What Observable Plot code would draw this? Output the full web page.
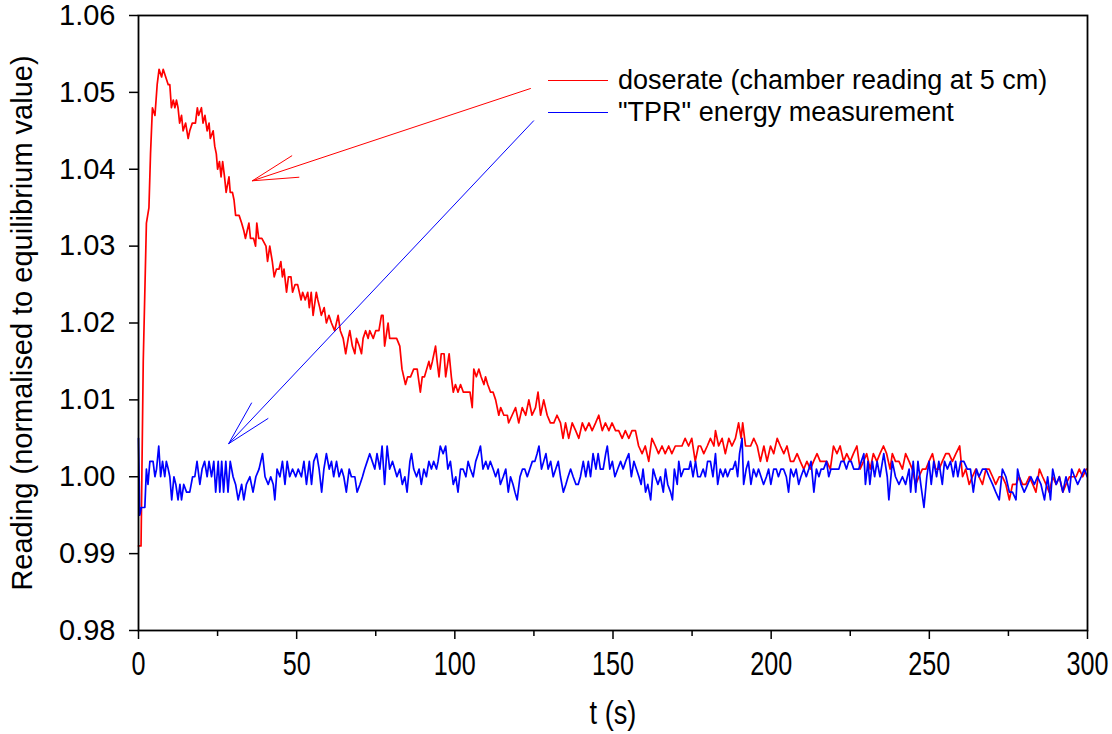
<!DOCTYPE html>
<html>
<head>
<meta charset="utf-8">
<script src="https://cdn.jsdelivr.net/npm/d3@7"></script>
<script src="https://cdn.jsdelivr.net/npm/@observablehq/plot@0.6"></script>
<style>
  html, body { margin: 0; padding: 0; background: #fff; }
  #wrap { position: relative; width: 1112px; height: 734px; }
  #legend { position: absolute; left: 548px; top: 64px; font-family: "Liberation Sans", Arial, sans-serif; font-size: 27px; color: #000; }
  #legend .row { display: flex; align-items: center; height: 32px; }
  #legend .sw { width: 60px; height: 0; border-top: 1.5px solid; margin-right: 10px; }
</style>
</head>
<body>
<div id="wrap"></div>
<script>
// ---- data ----
const seriesNames = ["doserate (chamber reading at 5 cm)", "\"TPR\" energy measurement"];
const seriesColors = ["#ff0000", "#0000ff"];

// doserate: [t (s), reading]
const doserate = [
[0,0.991],[0.8,0.991],[1.5,1.015],[2.5,1.033],[3.3,1.035],[3.8,1.042],[4.4,1.048],[5.2,1.047],[5.9,1.051],[6.5,1.053],
[7.3,1.052],[7.8,1.053],[8.6,1.052],[9.4,1.051],[9.9,1.051],[10.4,1.048],[11,1.049],[11.5,1.048],[12,1.049],[12.5,1.048],
[13,1.046],[13.6,1.047],[14.1,1.045],[14.9,1.046],[15.7,1.044],[16.2,1.045],[17,1.046],[18,1.046],[18.6,1.048],[19,1.047],
[19.9,1.048],[20.4,1.046],[21,1.047],[21.7,1.045],[22.3,1.046],[22.7,1.044],[23.6,1.045],[24.1,1.043],[24.6,1.042],[25,1.040],
[25.6,1.041],[26.1,1.039],[26.6,1.041],[27.2,1.039],[27.7,1.037],[28.6,1.039],[29,1.037],[29.7,1.037],[30.2,1.036],[30.7,1.034],
[31.8,1.034],[32.6,1.033],[33.3,1.032],[33.8,1.031],[34.9,1.033],[35.4,1.031],[36.4,1.031],[37,1.030],[37.4,1.033],[38,1.031],
[39,1.031],[40.3,1.030],[40.8,1.028],[41.5,1.030],[42.3,1.028],[42.9,1.026],[43.6,1.027],[44.4,1.027],[45,1.028],[45.5,1.026],
[46,1.027],[46.8,1.024],[47.4,1.026],[48.2,1.026],[48.7,1.024],[49.5,1.025],[50.3,1.025],[51.4,1.023],[51.9,1.024],[52.7,1.023],
[53.5,1.024],[54,1.022],[54.6,1.024],[55.2,1.021],[56.2,1.024],[56.7,1.023],[57.3,1.022],[57.8,1.021],[58.7,1.022],[59.4,1.020],
[60.2,1.021],[61,1.020],[62,1.019],[63.1,1.021],[63.8,1.019],[64.7,1.018],[65.5,1.016],[66.3,1.018],[66.8,1.019],[67.6,1.017],
[68.4,1.016],[68.9,1.018],[69.8,1.017],[70.5,1.016],[71,1.018],[71.8,1.019],[72.6,1.018],[73.1,1.019],[74.2,1.018],[75,1.019],
[76,1.019],[76.8,1.021],[77.3,1.021],[77.8,1.017],[78.9,1.020],[79.4,1.018],[80.5,1.018],[81.6,1.018],[82.6,1.017],[83.3,1.014],
[84.4,1.012],[85.1,1.013],[86,1.013],[87,1.014],[88.1,1.014],[89.1,1.011],[89.7,1.013],[90.4,1.013],[91.1,1.014],[91.8,1.015],
[92.3,1.014],[92.9,1.015],[93.9,1.017],[94.4,1.015],[95,1.013],[95.7,1.016],[96.6,1.016],[97.1,1.013],[98.2,1.016],[98.9,1.013],
[99.5,1.011],[100.2,1.012],[101,1.011],[101.8,1.012],[102.7,1.011],[104,1.011],[104.8,1.011],[105.5,1.009],[106,1.014],[106.8,1.013],
[107.6,1.014],[108.3,1.013],[109.2,1.012],[109.7,1.013],[110.4,1.012],[111.3,1.011],[112.1,1.011],[112.9,1.010],[113.9,1.008],[114.5,1.009],
[115.5,1.008],[116.6,1.008],[117,1.007],[118.1,1.008],[119.2,1.009],[120.2,1.007],[121.3,1.009],[122.4,1.008],[123.4,1.010],[124.4,1.008],
[125.5,1.009],[126.3,1.011],[127.1,1.008],[128.1,1.010],[129.2,1.008],[130.2,1.007],[131.3,1.007],[132.3,1.008],[133.4,1.007],[134.2,1.005],
[135,1.007],[136,1.005],[137.1,1.007],[138.2,1.006],[139.2,1.005],[140.3,1.007],[141.3,1.006],[142.4,1.007],[143.4,1.006],[144.5,1.007],
[145.5,1.008],[146.6,1.006],[147.6,1.007],[148.7,1.006],[149.7,1.007],[150.8,1.006],[151.8,1.006],[152.9,1.005],[153.9,1.006],[155,1.005],
[156,1.006],[157.1,1.006],[158.1,1.004],[159.2,1.003],[160.2,1.004],[161.3,1.002],[162.3,1.005],[163.4,1.004],[164.4,1.003],[165.5,1.004],
[166.5,1.003],[167.6,1.004],[168.6,1.003],[169.7,1.004],[170.7,1.004],[171.8,1.004],[172.8,1.005],[173.9,1.004],[174.9,1.005],[176,1.002],
[177,1.004],[177.7,1.004],[178.7,1.003],[179.8,1.004],[180.8,1.005],[181.9,1.004],[182.4,1.006],[183.4,1.004],[184.5,1.005],[185.5,1.003],
[186.6,1.005],[187.6,1.004],[188.7,1.005],[189.7,1.007],[190.5,1.005],[191,1.007],[191.9,1.004],[193.5,1.004],[194.5,1.005],[195.6,1.004],
[196.6,1.002],[197.7,1.004],[198.7,1.002],[199.8,1.004],[200.8,1.003],[201.9,1.005],[202.9,1.004],[204,1.003],[205,1.004],[206.1,1.002],
[207.1,1.002],[208.2,1.003],[209.2,1.002],[210.3,1.001],[211.3,1.002],[212.4,1.001],[213.4,1.002],[214.5,1.003],[215.5,1.002],[216.6,1.002],
[217.6,1.002],[218.7,1.001],[219.7,1.004],[220.8,1.003],[221.8,1.004],[222.9,1.002],[223.9,1.003],[225,1.002],[226,1.003],[227.1,1.004],
[228.1,1.001],[229.2,1.002],[230.2,1.003],[231.3,1.001],[232.3,1.003],[233.4,1.002],[234.4,1.003],[235.5,1.004],[236.5,1.003],[237.6,1.001],
[238.3,1.003],[239.3,1.002],[240.4,1.002],[241.5,1.001],[242.5,1.003],[243.6,1.002],[244.6,1.001],[245.7,0.999],[246.7,1.000],[247.8,1.001],
[248.9,1.001],[249.9,1.002],[251,1.003],[252,1.001],[253.1,1.001],[254.1,1.002],[255.2,1.003],[256.2,1.003],[257.3,1.002],[258.4,1.003],
[259.6,1.004],[260.5,1.000],[261.5,1.001],[262.6,0.999],[263.6,1.000],[264.7,1.001],[265.7,1.000],[266.8,0.999],[267.9,1.001],[268.9,1.001],
[270,1.000],[271,0.999],[272.1,1.000],[273.1,1.000],[274.2,0.999],[275.3,0.997],[276.3,0.999],[277.4,0.999],[278.4,1.000],[279.5,0.999],
[280.5,0.999],[281.6,1.000],[282.7,0.999],[283.7,0.998],[284.8,1.001],[285.8,1.000],[286.9,0.999],[287.9,0.998],[289,1.000],[290.1,0.999],
[291.1,1.000],[292.2,0.998],[293.2,0.999],[294.3,1.000],[295.3,1.000],[296.4,1.000],[297.4,1.001],[298.5,1.000],[299.6,1.001]
];

// "TPR" energy measurement: [t (s), reading]
const tpr = [
[0,1.005],[0.4,0.995],[0.9,0.996],[2,0.996],[2.5,1.001],[3,0.999],[3.6,1.002],[4.6,1.002],[5.2,1.000],[5.7,1.001],
[6.4,1.004],[7,1.000],[7.6,1.002],[8.3,1.000],[8.8,1.002],[9.4,1.001],[9.9,1.000],[10.5,0.997],[11.2,1.000],[11.8,0.999],
[12.5,0.997],[13.1,0.999],[13.6,0.997],[14.3,0.999],[15.2,0.998],[16.2,0.998],[17.1,1.000],[17.8,1.000],[18.5,1.002],[19.4,0.999],
[20.1,1.001],[20.9,1.002],[21.7,1.000],[22.3,1.002],[23.1,1.000],[23.8,1.002],[24.4,0.998],[25.2,1.002],[25.7,0.998],[26.3,1.002],
[26.9,0.998],[27.6,1.002],[28.3,0.998],[29,1.002],[29.9,1.000],[30.7,0.999],[31.5,0.997],[32.6,0.999],[33.3,0.997],[34.1,0.999],
[35.2,1.000],[36.2,0.998],[37.1,1.000],[38.1,1.001],[39.2,1.003],[40,1.000],[41,0.999],[41.8,1.000],[42.6,0.999],[43.1,0.997],
[43.8,1.001],[44.7,1.000],[45.5,1.002],[46.3,0.999],[47,1.002],[47.8,1.000],[48.7,1.001],[49.7,1.000],[50.5,1.001],[51.5,1.000],
[52.3,1.002],[53.1,0.999],[54,1.002],[54.7,0.999],[55.4,1.002],[56.3,1.003],[57.1,1.001],[57.9,0.998],[58.6,1.001],[59.4,1.003],
[60.3,1.001],[61,1.002],[61.7,1.000],[62.6,1.002],[63.4,1.000],[64.2,1.001],[64.9,1.000],[65.7,0.998],[66.6,1.001],[67.3,1.000],
[68.4,1.000],[69.1,0.998],[70,0.999],[70.8,1.000],[71.5,1.001],[72.3,1.002],[73.1,1.003],[73.9,1.002],[74.7,1.001],[75.4,1.003],
[76.3,1.001],[77,1.004],[77.8,0.999],[78.6,1.004],[79.4,1.001],[80.3,1.002],[81,1.001],[81.7,1.000],[82.6,1.001],[83.4,0.999],
[84.2,1.000],[84.9,0.998],[85.8,1.002],[86.3,1.003],[87,1.001],[87.9,1.000],[88.7,1.001],[89.4,0.999],[90.2,1.001],[91,1.000],
[91.8,1.002],[92.6,1.001],[93.3,1.002],[94.2,1.001],[94.7,1.002],[95.4,1.004],[96.3,1.003],[97.1,1.004],[97.8,1.001],[98.6,1.002],
[99.5,0.999],[100.3,1.000],[101,0.998],[101.8,1.001],[102.6,1.001],[103.5,1.000],[104.2,1.002],[104.9,1.001],[105.8,1.000],[106.6,1.002],
[107.4,1.003],[108.1,1.004],[108.9,1.001],[109.8,1.002],[110.5,1.001],[111.2,1.002],[112.1,1.001],[112.9,1.000],[113.7,1.001],[114.4,0.999],
[115.3,1.000],[116.1,1.001],[116.9,0.998],[117.6,1.000],[118.4,0.999],[119,0.998],[119.7,0.997],[120.6,1.000],[121.4,1.001],[122.1,1.001],
[122.9,1.000],[123.7,1.001],[124.5,1.002],[125.3,1.002],[126,1.003],[126.6,1.004],[127.4,1.001],[128.1,1.002],[128.8,1.003],[129.5,1.001],
[130.3,1.002],[131.1,1.000],[131.9,1.001],[132.7,1.002],[133.4,1.000],[134.3,0.998],[135.1,0.999],[135.8,1.000],[136.6,1.001],[137.4,1.000],
[138.3,0.999],[139,0.999],[139.7,1.000],[140.6,1.002],[141.4,1.000],[142.2,1.002],[142.9,1.000],[143.7,1.003],[144.6,1.001],[145.3,1.003],
[146,1.001],[146.9,1.001],[147.7,1.003],[148.2,1.004],[149,1.001],[149.8,1.002],[150.6,1.000],[151.5,1.001],[152.4,1.002],[153.2,1.001],
[154,1.002],[155,1.003],[155.8,1.000],[156.6,1.002],[157.4,1.001],[158.2,1.000],[158.9,0.999],[159.5,1.001],[160.3,0.998],[161,0.999],
[161.9,0.997],[162.7,1.001],[163.4,1.000],[164.2,0.999],[165,1.000],[165.9,0.998],[166.6,1.001],[167.3,0.999],[168.2,0.998],[168.8,0.997],
[169.4,1.001],[170.3,0.999],[170.8,1.002],[171.5,1.000],[172.4,1.001],[173.2,1.001],[174,1.001],[174.5,1.002],[175.3,1.000],[176.1,1.002],
[176.8,1.000],[177.6,1.000],[178.5,1.001],[179.2,1.000],[179.9,1.002],[180.8,1.002],[181.6,1.000],[182.4,1.003],[183.1,0.999],[183.9,1.001],
[184.8,1.000],[185.5,1.001],[186.2,1.000],[187.1,1.001],[187.9,1.001],[188.7,1.002],[189.4,1.000],[190,1.003],[190.8,1.005],[191.3,0.999],
[192.1,1.001],[192.8,1.002],[193.6,0.999],[194.4,1.001],[195.3,1.000],[196,1.001],[196.8,1.000],[197.6,0.999],[198.5,1.000],[199.2,1.001],
[199.9,0.999],[200.8,1.001],[201.6,1.001],[202.3,1.000],[203.1,1.001],[203.9,1.001],[204.8,1.000],[205.5,0.998],[206.2,1.001],[207.1,1.000],
[207.9,1.001],[208.7,0.999],[209.4,1.000],[210.3,1.001],[211.1,1.000],[211.9,1.001],[212.6,1.002],[213.5,0.998],[214.3,1.001],[215.1,1.000],
[215.8,1.001],[216.6,1.001],[217.5,1.002],[218.2,1.000],[218.9,1.001],[219.8,1.001],[220.6,1.001],[221.4,1.001],[222.1,1.002],[223,1.002],
[223.8,1.001],[224.5,1.002],[225.3,1.002],[226.1,1.001],[227,1.001],[227.7,1.001],[228.5,1.002],[229.3,1.003],[229.8,0.999],[230.6,1.002],
[231.2,0.999],[232,1.002],[232.7,1.000],[233.5,1.002],[234.4,1.000],[235.6,1.003],[236.7,1.000],[237.2,0.997],[238.3,1.002],[239.3,1.000],
[240.4,0.999],[241.5,1.000],[242.5,0.999],[243.6,1.001],[244.1,0.998],[244.9,1.002],[245.7,0.998],[246.4,1.002],[247.3,0.999],[248.3,0.996],
[249.2,1.000],[249.9,1.002],[250.6,0.999],[251.4,1.002],[252.3,1.000],[253,1.002],[254.1,0.999],[254.8,1.002],[255.7,1.001],[256.7,1.002],
[257.6,1.000],[258.3,1.002],[259,1.000],[259.9,1.002],[260.9,1.002],[262,1.001],[263,1.001],[263.9,0.998],[264.9,1.001],[265.7,1.000],
[266.8,1.001],[267.9,1.001],[268.9,1.000],[270,0.999],[271,0.998],[272.1,0.997],[273.1,1.001],[274.2,1.000],[275.3,0.998],[276.3,0.998],
[277.4,0.997],[277.9,1.001],[279,0.999],[280,0.998],[281.1,0.999],[282.1,1.000],[283.2,0.999],[284.2,1.000],[285.3,0.999],[286.4,0.997],
[287.4,1.000],[288.3,0.997],[289,1.001],[290.1,0.999],[291.1,1.000],[292.2,0.998],[293.2,1.000],[294.3,0.998],[295,1.001],[295.9,1.000],
[296.9,0.999],[298,1.000],[299,1.001],[299.9,1.000]
];

// axis ticks and labels
const xMajorTicks = [0, 50, 100, 150, 200, 250, 300];
const xMinorTicks = [25, 75, 125, 175, 225, 275];
const yTicks = [0.98, 0.99, 1.00, 1.01, 1.02, 1.03, 1.04, 1.05, 1.06];
const xLabel = "t (s)";
const yLabel = "Reading (normalised to equilibrium value)";

// annotation arrows (legend entry -> curve), in data units
const arrowT1 = [123.9, 124.9];
const arrowV1 = [1.0505, 1.0463];
const arrowT2 = [36.0, 28.5];
const arrowV2 = [1.0385, 1.0043];

// ---- build ----
const lineRows = [
  ...doserate.map(([t, v]) => ({t, v, s: seriesNames[0]})),
  ...tpr.map(([t, v]) => ({t, v, s: seriesNames[1]}))
];
const arrowRows = arrowT1.map((t, i) => ({t1: t, v1: arrowV1[i], t2: arrowT2[i], v2: arrowV2[i], c: seriesColors[i]}));
const font = "'Liberation Sans', Arial, sans-serif";

const chart = Plot.plot({
  width: 1112,
  height: 734,
  marginLeft: 138,
  marginRight: 25,
  marginTop: 15,
  marginBottom: 104,
  style: {fontFamily: font, background: "#fff", color: "#000", overflow: "visible"},
  x: {domain: [0, 300]},
  y: {domain: [0.98, 1.06]},
  color: {domain: seriesNames, range: seriesColors},
  marks: [
    Plot.axisY({ticks: yTicks, tickFormat: d3.format(".2f"), tickSize: 9, tickPadding: 14, fontSize: 29, label: null, strokeWidth: 1.5}),
    Plot.axisX({ticks: xMajorTicks, tickFormat: d3.format("d"), tickSize: 9, tickPadding: 11, fontSize: 34, label: null, strokeWidth: 1.5}),
    Plot.axisX({ticks: xMinorTicks, tickFormat: () => "", tickSize: 6, label: null, strokeWidth: 1.5}),
    Plot.line(lineRows, {x: "t", y: "v", z: "s", stroke: "s", strokeWidth: 1.7}),
    Plot.arrow(arrowRows, {x1: "t1", y1: "v1", x2: "t2", y2: "v2", stroke: "c", strokeWidth: 1, headLength: 70, headAngle: 28}),
    Plot.frame({stroke: "#000", strokeWidth: 1.8}),
    Plot.text([yLabel], {frameAnchor: "left", textAnchor: "middle", rotate: -90, dx: -116, fontSize: 29, fill: "#000"}),
    Plot.text([xLabel], {frameAnchor: "bottom", dy: 93, fontSize: 34, fill: "#000"})
  ]
});

const wrap = document.getElementById("wrap");
wrap.appendChild(chart);

// condense the x tick labels and the x title horizontally, as in the reference
const condense = (el, factor) => {
  const tr = el.getAttribute("transform") || "";
  el.setAttribute("transform", `${tr} scale(${factor},1)`);
};
chart.querySelectorAll('g[aria-label="x-axis tick label"] text').forEach(el => condense(el, 0.74));
chart.querySelectorAll('g[aria-label="text"] text').forEach(el => {
  if (el.textContent === xLabel) condense(el, 0.8);
});

const legend = document.createElement("div");
legend.id = "legend";
seriesNames.forEach((name, i) => {
  const row = document.createElement("div");
  row.className = "row";
  const sw = document.createElement("span");
  sw.className = "sw";
  sw.style.borderTopColor = seriesColors[i];
  const tx = document.createElement("span");
  tx.textContent = name;
  row.appendChild(sw);
  row.appendChild(tx);
  legend.appendChild(row);
});
wrap.appendChild(legend);
</script>
</body>
</html>
